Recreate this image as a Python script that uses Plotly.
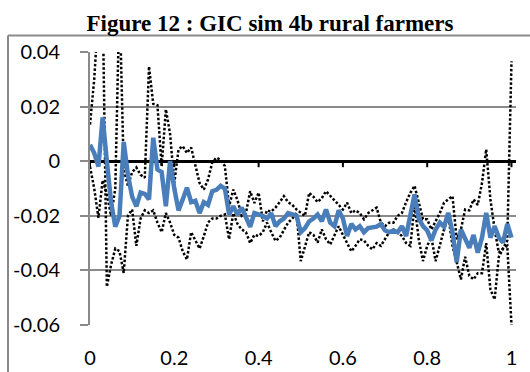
import numpy as np
import plotly.graph_objects as go

# categories 0 .. 1 step 0.01
X = [round(i * 0.01, 2) for i in range(101)]

GIC = [0.006, 0.003, -0.002, 0.016, 0.0, -0.015, -0.024, -0.02, 0.007, -0.005,
       -0.013, -0.0165, -0.0115, -0.012, -0.014, 0.0086, -0.003, -0.004, -0.0165, 0.0,
       -0.01, -0.018, -0.014, -0.0097, -0.015, -0.0145, -0.019, -0.015, -0.016, -0.011,
       -0.0105, -0.009, -0.01, -0.0195, -0.0165, -0.0195, -0.017, -0.021, -0.024, -0.019,
       -0.0195, -0.02, -0.021, -0.019, -0.0238, -0.022, -0.021, -0.019, -0.0195, -0.020,
       -0.026, -0.0245, -0.022, -0.021, -0.0195, -0.022, -0.0177, -0.0225, -0.0238, -0.018,
       -0.021, -0.0274, -0.023, -0.025, -0.0238, -0.026, -0.0245, -0.0243, -0.024, -0.023,
       -0.0254, -0.026, -0.0254, -0.026, -0.0238, -0.0274, -0.02, -0.0122, -0.021, -0.0238,
       -0.0254, -0.029, -0.025, -0.0225, -0.024, -0.0189, -0.026, -0.037, -0.025, -0.028,
       -0.0317, -0.027, -0.0335, -0.028, -0.0189, -0.028, -0.0238, -0.028, -0.0298, -0.023,
       -0.028]

BOUND_A = [0.0134, 0.03, 0.055, 0.06, -0.046, -0.038, -0.032, -0.033, -0.041, -0.02,
           -0.0177, -0.031, -0.021, -0.018, -0.019, -0.018, -0.0225, -0.026, -0.019, -0.0225,
           -0.027, -0.028, -0.033, -0.036, -0.026, -0.029, -0.032, -0.0275, -0.0225, -0.021,
           -0.021, -0.02, -0.0195, -0.0286, -0.019, -0.023, -0.025, -0.026, -0.03, -0.027,
           -0.0274, -0.026, -0.0225, -0.026, -0.0292, -0.028, -0.025, -0.0225, -0.021, -0.019,
           -0.0366, -0.031, -0.026, -0.027, -0.0298, -0.025, -0.0286, -0.0305, -0.027, -0.0238,
           -0.027, -0.0298, -0.033, -0.031, -0.0286, -0.029, -0.031, -0.0323, -0.030, -0.031,
           -0.0286, -0.026, -0.025, -0.026, -0.0274, -0.03, -0.031, -0.016, -0.0286, -0.0366,
           -0.031, -0.028, -0.0366, -0.0305, -0.025, -0.02, -0.031, -0.037, -0.0433, -0.035,
           -0.042, -0.0433, -0.041, -0.041, -0.03, -0.047, -0.0506, -0.035, -0.032, -0.031,
           -0.06]

BOUND_B = [-0.002, -0.01, -0.0207, -0.007, -0.012, -0.02, -0.01, 0.06, -0.003, -0.009,
           -0.004, -0.0023, -0.005, -0.006, 0.0347, 0.021, 0.0205, -0.002, 0.019, 0.01,
           -0.008, 0.0043, 0.0055, 0.003, 0.005, -0.002, -0.008, -0.0104, -0.0067, -0.0005,
           0.0013, 0.0005, -0.0018, -0.0165, -0.0104, -0.0143, -0.02, -0.019, -0.011, -0.0153,
           -0.0115, -0.022, -0.018, -0.0185, -0.017, -0.015, -0.0128, -0.015, -0.016, -0.0177,
           -0.019, -0.02, -0.0116, -0.013, -0.015, -0.0135, -0.011, -0.0128, -0.0146, -0.016,
           -0.0177, -0.0152, -0.019, -0.018, -0.019, -0.0213, -0.019, -0.018, -0.017, -0.0225,
           -0.0238, -0.0225, -0.0225, -0.02, -0.019, -0.015, -0.0116, -0.009, -0.015, -0.0213,
           -0.0213, -0.025, -0.022, -0.019, -0.0152, -0.014, -0.0128, -0.0286, -0.025, -0.0177,
           -0.018, -0.014, -0.016, -0.008, 0.0043, -0.014, -0.025, -0.0335, -0.032, -0.029,
           0.0366]

Y_TICKS = [0.04, 0.02, 0, -0.02, -0.04, -0.06]
Y_LABELS = ["0.04", "0.02", "0", "-0.02", "-0.04", "-0.06"]
X_TICKS = [0, 0.2, 0.4, 0.6, 0.8, 1]
X_LABELS = ["0", "0.2", "0.4", "0.6", "0.8", "1"]

TITLE = "Figure 12 : GIC sim 4b rural farmers"

W, H = 530, 372
ML, MR, MT, MB = 90, 14, 52, 47
PW, PH = W - ML - MR, H - MT - MB

def px_to_paper_x(px):
    return (px - ML) / PW

def py_to_paper_y(py):
    return (H - MB - py) / PH

fig = go.Figure()
dot = dict(color="black", width=2.5, dash="2.5px,2px")
fig.add_trace(go.Scatter(x=X, y=BOUND_A, mode="lines", line=dot, showlegend=False))
fig.add_trace(go.Scatter(x=X, y=BOUND_B, mode="lines", line=dot, showlegend=False))
fig.add_trace(go.Scatter(x=X, y=GIC, mode="lines",
                         line=dict(color="#4a7ebb", width=4.5), showlegend=False))

shapes = []
# small black tick marks on the horizontal axis (drawn at y = 0)
for t in X_TICKS:
    shapes.append(dict(type="line", xref="x", yref="y", x0=t, x1=t,
                       ysizemode="pixel", yanchor=0, y0=0, y1=-6,
                       line=dict(color="black", width=2)))
# outer chart frame (top and left borders)
fx0 = px_to_paper_x(8)
fy_top = py_to_paper_y(35.5)
shapes.append(dict(type="line", xref="paper", yref="paper", x0=fx0, x1=px_to_paper_x(531),
                   y0=fy_top, y1=fy_top, line=dict(color="#8a8a8a", width=2)))
shapes.append(dict(type="line", xref="paper", yref="paper", x0=fx0, x1=fx0,
                   y0=fy_top, y1=py_to_paper_y(373), line=dict(color="#8a8a8a", width=2)))

fig.update_layout(
    width=W, height=H,
    margin=dict(l=ML, r=MR, t=MT, b=MB, pad=0, autoexpand=False),
    paper_bgcolor="white", plot_bgcolor="white",
    title=dict(text="<b>" + TITLE + "</b>", xref="container", yref="container",
               x=270 / W, xanchor="center", y=1 - 23 / H, yanchor="middle",
               font=dict(family="Liberation Serif, Times New Roman, serif", size=23, color="black")),
    font=dict(family="Lato, Calibri, sans-serif", size=20, color="black"),
    shapes=shapes,
    xaxis=dict(range=[0, 1.0107], tickvals=X_TICKS, ticktext=X_LABELS, automargin=False,
               showgrid=False, zeroline=False, showline=False, ticks="",
               ticklabelstandoff=19, tickfont=dict(size=20)),
    yaxis=dict(range=[-0.06, 0.04], tickvals=Y_TICKS, ticktext=Y_LABELS, automargin=False,
               showgrid=True, gridcolor="#8a8a8a", gridwidth=1.5,
               zeroline=True, zerolinecolor="black", zerolinewidth=3,
               showline=True, linecolor="#8a8a8a", linewidth=2,
               ticks="outside", ticklen=8, tickcolor="#8a8a8a", tickwidth=1.5,
               ticklabelstandoff=16, tickfont=dict(size=20)),
)

fig.write_html("out.html")
